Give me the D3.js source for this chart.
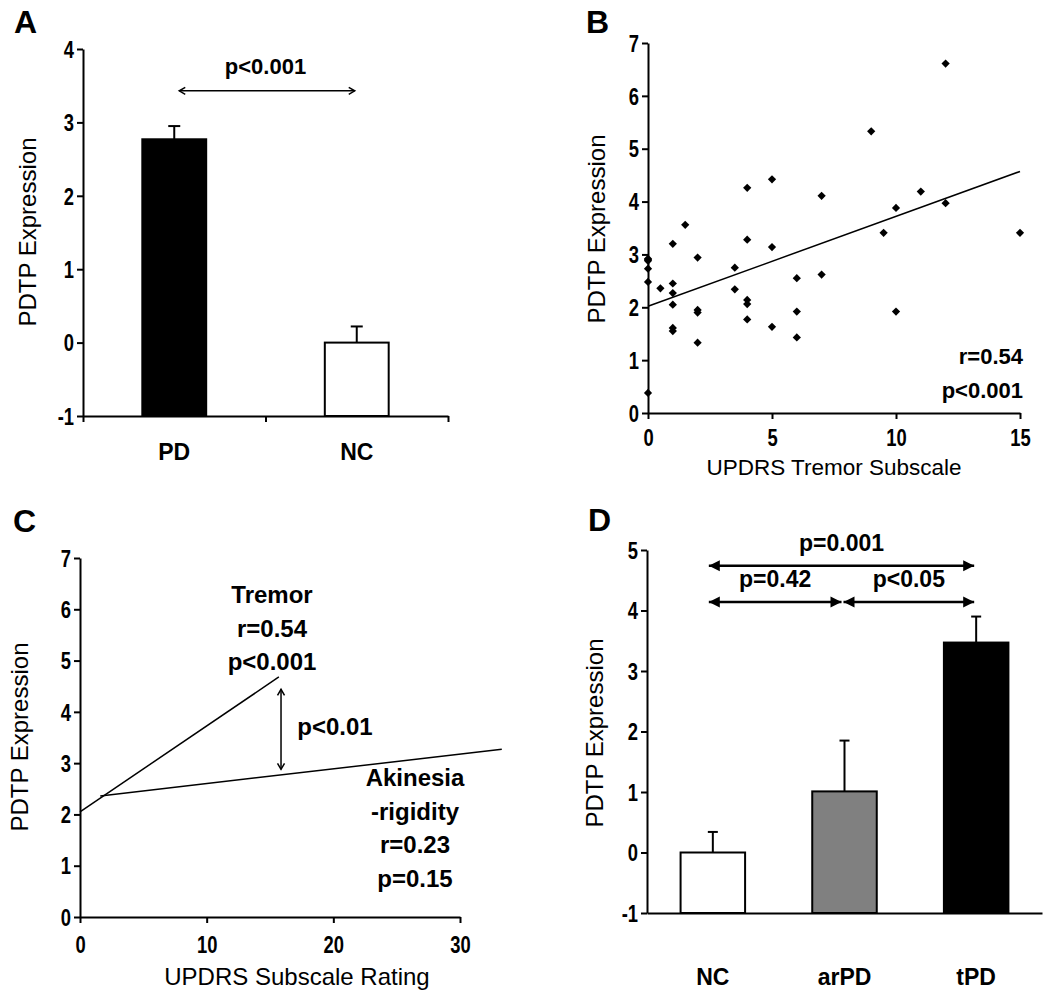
<!DOCTYPE html>
<html><head><meta charset="utf-8">
<script src="https://cdn.jsdelivr.net/npm/d3@7"></script>
<style>
body{margin:0;background:#fff;}
svg{display:block;}
.axis path,.axis line{stroke:#000;stroke-width:2;}
.lbl{font-family:"Liberation Sans",Arial,sans-serif;font-weight:bold;fill:#000;}
.ttl{font-family:"Liberation Sans",Arial,sans-serif;font-weight:normal;font-size:24px;fill:#000;}
.tk{font-family:"Liberation Sans",Arial,sans-serif;font-weight:bold;font-size:23px;fill:#000;}
</style>
</head><body>
<svg id="fig" width="1050" height="999"></svg>
<script>
// ---------- DATA ----------
// Panel A
const aCategories = ["PD", "NC"];
const aMeans = [2.77, 0];
const aErrors = [0.18, 0.22];
const aFills = ["#000000", "#ffffff"];
const aTicks = [-1, 0, 1, 2, 3, 4];
const aPLabel = "p<0.001";
const aPValueY = 3.43;

// Panel B (UPDRS tremor subscale vs PDTP expression)
const bTremor = [0, 0, 0, 0, 0, 0, 0.5, 1, 1, 1, 1, 1, 1, 1.5, 2, 2, 2, 2,
  3.5, 3.5, 4, 4, 4, 4, 4, 5, 5, 5, 6, 6, 6, 7, 7, 9, 9.5, 10, 10, 11, 12, 12, 15];
const bPDTP = [2.92, 2.88, 2.73, 2.48, 0.38, 2.90, 2.36, 3.20, 2.45, 2.27, 2.05, 1.61, 1.55, 3.56, 2.94, 1.95, 1.90, 1.33,
  2.75, 2.34, 4.26, 3.28, 2.14, 2.06, 1.77, 4.42, 3.14, 1.63, 2.55, 1.92, 1.43, 4.11, 2.62, 5.33, 3.41, 3.88, 1.92, 4.19, 6.61, 3.97, 3.41];
const bFitX = [0, 15];
const bFitY = [2.02, 4.57];
const bXTicks = [0, 5, 10, 15];
const bYTicks = [0, 1, 2, 3, 4, 5, 6, 7];
const bStats = ["r=0.54", "p<0.001"];

// Panel C (regression lines)
const cTremorX = [0, 15.7];
const cTremorY = [2.05, 4.68];
const cAkinesiaX = [1.6, 33.3];
const cAkinesiaY = [2.36, 3.27];
const cXTicks = [0, 10, 20, 30];
const cYTicks = [0, 1, 2, 3, 4, 5, 6, 7];
const cTremorText = ["Tremor", "r=0.54", "p<0.001"];
const cAkinesiaText = ["Akinesia", "-rigidity", "r=0.23", "p=0.15"];
const cDiffX = 15.87;
const cDiffY = [4.44, 2.88];
const cDiffLabel = "p<0.01";

// Panel D
const dCategories = ["NC", "arPD", "tPD"];
const dMeans = [0, 1.01, 3.47];
const dErrors = [0.34, 0.84, 0.43];
const dFills = ["#ffffff", "#808080", "#000000"];
const dTicks = [-1, 0, 1, 2, 3, 4, 5];
const dComparisons = [
  {from: "NC", to: "tPD", y: 4.74, label: "p=0.001"},
  {from: "NC", to: "arPD", y: 4.14, label: "p=0.42"},
  {from: "arPD", to: "tPD", y: 4.14, label: "p<0.05"}
];

// ---------- DRAW ----------
const svg = d3.select("#fig");
const defs = svg.append("defs");
defs.append("marker").attr("id", "open").attr("viewBox", "-8 -5 10 10")
  .attr("refX", 0).attr("refY", 0).attr("markerWidth", 10).attr("markerHeight", 10)
  .attr("markerUnits", "userSpaceOnUse").attr("orient", "auto-start-reverse")
  .append("path").attr("d", "M-6,-3.5L0,0L-6,3.5").attr("fill", "none").attr("stroke", "#000").attr("stroke-width", 1.5);
defs.append("marker").attr("id", "solid").attr("viewBox", "-12 -6 13 12")
  .attr("refX", 0).attr("refY", 0).attr("markerWidth", 13).attr("markerHeight", 12)
  .attr("markerUnits", "userSpaceOnUse").attr("orient", "auto-start-reverse")
  .append("path").attr("d", "M-11,-5.5L0,0L-11,5.5Z").attr("fill", "#000");

const fmt = d => String(d);
function panelLetter(t, x, y) {
  svg.append("text").attr("class", "lbl").attr("x", x).attr("y", y)
    .style("font-size", "32px").text(t);
}
function yTitle(x, y) {
  svg.append("text").attr("class", "ttl")
    .attr("transform", `translate(${x},${y}) rotate(-90)`)
    .attr("text-anchor", "middle").attr("dy", "0.35em").text("PDTP Expression");
}
// Draws axis line + ticks through d3 axis, then replaces tick labels with condensed bold numerals
function styleAxis(g, orient) {
  g.attr("class", "axis").attr("font-size", null).attr("font-family", null);
  g.selectAll(".tick line").attr("stroke", "#000");
  g.selectAll(".tick text").each(function () {
    const t = d3.select(this);
    const txt = t.text();
    if (!txt) return;
    const par = d3.select(this.parentNode);
    const tx = +t.attr("x") || 0, ty = +t.attr("y") || 0;
    t.remove();
    const nt = par.append("text").attr("class", "tk").text(txt)
      .attr("transform", `translate(${tx},${ty}) scale(0.8,1)`);
    if (orient === "left") nt.attr("text-anchor", "end").attr("dy", "0.36em");
    else nt.attr("text-anchor", "middle").attr("dy", "0.72em");
  });
}

// ===== Panel A =====
{
  const y = d3.scaleLinear().domain([-1, 4]).range([416, 49]);
  const xb = d3.scaleBand().domain(aCategories).range([83, 448]).padding(0);
  const xt = d3.scaleLinear().domain([0, aCategories.length]).range([83, 448]);
  const bw = xb.bandwidth() * 0.35;
  const g = svg.append("g");
  aCategories.forEach((c, i) => {
    const cx = xb(c) + xb.bandwidth() / 2;
    g.append("line").attr("x1", cx).attr("x2", cx).attr("y1", y(aMeans[i])).attr("y2", y(aMeans[i] + aErrors[i]))
      .attr("stroke", "#000").attr("stroke-width", 2);
    g.append("line").attr("x1", cx - 6).attr("x2", cx + 6).attr("y1", y(aMeans[i] + aErrors[i])).attr("y2", y(aMeans[i] + aErrors[i]))
      .attr("stroke", "#000").attr("stroke-width", 2);
    g.append("rect").attr("x", cx - bw / 2).attr("width", bw)
      .attr("y", y(aMeans[i])).attr("height", y(-1) - y(aMeans[i]))
      .attr("fill", aFills[i]).attr("stroke", "#000").attr("stroke-width", 2);
    g.append("text").attr("class", "lbl").style("font-size", "23px")
      .attr("x", cx).attr("y", 452).attr("dy", "0.35em").attr("text-anchor", "middle").text(c);
  });
  g.append("g").attr("transform", "translate(83,0)")
    .call(d3.axisLeft(y).tickValues(aTicks).tickSize(6).tickSizeOuter(0).tickPadding(3).tickFormat(fmt))
    .call(styleAxis, "left");
  g.append("g").attr("transform", "translate(0,416)")
    .call(d3.axisBottom(xt).tickValues([0, 1, 2]).tickSize(6).tickSizeOuter(0).tickFormat(""))
    .call(styleAxis, "bottom");
  const c0 = xb(aCategories[0]) + xb.bandwidth() / 2, c1 = xb(aCategories[1]) + xb.bandwidth() / 2;
  g.append("line").attr("x1", c0 + 5).attr("x2", c1 - 2).attr("y1", y(aPValueY)).attr("y2", y(aPValueY))
    .attr("stroke", "#000").attr("stroke-width", 1.5)
    .attr("marker-start", "url(#open)").attr("marker-end", "url(#open)");
  g.append("text").attr("class", "lbl").style("font-size", "22px").attr("text-anchor", "middle")
    .attr("x", (c0 + c1) / 2).attr("y", y(aPValueY) - 25).attr("dy", "0.35em").text(aPLabel);
  yTitle(28, 232);
  panelLetter("A", 14, 33);
}

// ===== Panel B =====
{
  const x = d3.scaleLinear().domain([0, 15]).range([648, 1020]);
  const y = d3.scaleLinear().domain([0, 7]).range([413, 43]);
  const g = svg.append("g");
  g.append("g").attr("transform", "translate(648,0)")
    .call(d3.axisLeft(y).tickValues(bYTicks).tickSize(6).tickSizeOuter(0).tickPadding(3).tickFormat(fmt))
    .call(styleAxis, "left");
  g.append("g").attr("transform", "translate(0,413)")
    .call(d3.axisBottom(x).tickValues(bXTicks).tickSize(6).tickSizeOuter(0).tickPadding(10).tickFormat(fmt))
    .call(styleAxis, "bottom");
  g.append("path").attr("d", d3.line().x(d => x(d[0])).y(d => y(d[1]))(d3.zip(bFitX, bFitY)))
    .attr("stroke", "#000").attr("stroke-width", 1.5).attr("fill", "none");
  const sym = d3.symbol(d3.symbolSquare).size(34);
  g.selectAll("path.pt").data(d3.zip(bTremor, bPDTP)).join("path").attr("class", "pt")
    .attr("d", sym).attr("transform", d => `translate(${x(d[0])},${y(d[1])}) rotate(45)`).attr("fill", "#000");
  bStats.forEach((s, i) => {
    g.append("text").attr("class", "lbl").style("font-size", "22px").attr("text-anchor", "end")
      .attr("x", 1023).attr("y", 356 + i * 34).attr("dy", "0.35em").text(s);
  });
  g.append("text").attr("class", "ttl").style("font-size", "22.5px").attr("text-anchor", "middle")
    .attr("x", 834).attr("y", 467).attr("dy", "0.35em").text("UPDRS Tremor Subscale");
  yTitle(597, 229);
  panelLetter("B", 586, 33);
}

// ===== Panel C =====
{
  const x = d3.scaleLinear().domain([0, 30]).range([80, 460]);
  const y = d3.scaleLinear().domain([0, 7]).range([917, 558]);
  const g = svg.append("g");
  g.append("g").attr("transform", "translate(80,0)")
    .call(d3.axisLeft(y).tickValues(cYTicks).tickSize(6).tickSizeOuter(0).tickPadding(3).tickFormat(fmt))
    .call(styleAxis, "left");
  g.append("g").attr("transform", "translate(0,917)")
    .call(d3.axisBottom(x).tickValues(cXTicks).tickSize(6).tickSizeOuter(0).tickPadding(13).tickFormat(fmt))
    .call(styleAxis, "bottom");
  const ln = d3.line().x(d => x(d[0])).y(d => y(d[1]));
  g.append("path").attr("d", ln(d3.zip(cTremorX, cTremorY))).attr("stroke", "#000").attr("stroke-width", 1.5).attr("fill", "none");
  g.append("path").attr("d", ln(d3.zip(cAkinesiaX, cAkinesiaY))).attr("stroke", "#000").attr("stroke-width", 1.5).attr("fill", "none");
  g.append("line").attr("x1", x(cDiffX)).attr("x2", x(cDiffX)).attr("y1", y(cDiffY[0])).attr("y2", y(cDiffY[1]))
    .attr("stroke", "#000").attr("stroke-width", 1.5)
    .attr("marker-start", "url(#open)").attr("marker-end", "url(#open)");
  g.append("text").attr("class", "lbl").style("font-size", "24px").attr("text-anchor", "middle")
    .attr("x", 335).attr("y", 727).attr("dy", "0.35em").text(cDiffLabel);
  cTremorText.forEach((s, i) => {
    g.append("text").attr("class", "lbl").style("font-size", "24px").attr("text-anchor", "middle")
      .attr("x", 272).attr("y", 595 + i * 33.5).attr("dy", "0.35em").text(s);
  });
  cAkinesiaText.forEach((s, i) => {
    g.append("text").attr("class", "lbl").style("font-size", "24px").attr("text-anchor", "middle")
      .attr("x", 415).attr("y", 778 + i * 33.5).attr("dy", "0.35em").text(s);
  });
  g.append("text").attr("class", "ttl").attr("text-anchor", "middle")
    .attr("x", 297).attr("y", 977).attr("dy", "0.35em").text("UPDRS Subscale Rating");
  yTitle(20, 737);
  panelLetter("C", 13, 532);
}

// ===== Panel D =====
{
  const y = d3.scaleLinear().domain([-1, 5]).range([913, 550]);
  const xb = d3.scaleBand().domain(dCategories).range([647, 1042]).padding(0);
  const bw = xb.bandwidth() * 0.49;
  const cx = c => xb(c) + xb.bandwidth() / 2;
  const g = svg.append("g");
  dCategories.forEach((c, i) => {
    g.append("line").attr("x1", cx(c)).attr("x2", cx(c)).attr("y1", y(dMeans[i])).attr("y2", y(dMeans[i] + dErrors[i]))
      .attr("stroke", "#000").attr("stroke-width", 2);
    g.append("line").attr("x1", cx(c) - 5).attr("x2", cx(c) + 5).attr("y1", y(dMeans[i] + dErrors[i])).attr("y2", y(dMeans[i] + dErrors[i]))
      .attr("stroke", "#000").attr("stroke-width", 2);
    g.append("rect").attr("x", cx(c) - bw / 2).attr("width", bw)
      .attr("y", y(dMeans[i])).attr("height", y(-1) - y(dMeans[i]))
      .attr("fill", dFills[i]).attr("stroke", "#000").attr("stroke-width", 2);
    g.append("text").attr("class", "lbl").style("font-size", "23px")
      .attr("x", cx(c)).attr("y", 977).attr("dy", "0.35em").attr("text-anchor", "middle").text(c);
  });
  g.append("g").attr("transform", "translate(647,0)")
    .call(d3.axisLeft(y).tickValues(dTicks).tickSize(6).tickSizeOuter(0).tickPadding(3).tickFormat(fmt))
    .call(styleAxis, "left");
  g.append("g").attr("transform", "translate(0,913)")
    .call(d3.axisBottom(xb).tickValues([]).tickSizeOuter(0))
    .call(styleAxis, "bottom");
  dComparisons.forEach(cmp => {
    const x1 = cx(cmp.from) - 4 + (cmp.from === "arPD" ? 3 : 0);
    const x2 = cx(cmp.to) + (cmp.to === "arPD" ? -3 : -2);
    g.append("line").attr("x1", x1).attr("x2", x2).attr("y1", y(cmp.y)).attr("y2", y(cmp.y))
      .attr("stroke", "#000").attr("stroke-width", 2.5)
      .attr("marker-start", "url(#solid)").attr("marker-end", "url(#solid)");
    g.append("text").attr("class", "lbl").style("font-size", "23px").attr("text-anchor", "middle")
      .attr("x", (x1 + x2) / 2).attr("y", y(cmp.y) - 23).attr("dy", "0.35em").text(cmp.label);
  });
  yTitle(595, 733);
  panelLetter("D", 588, 531);
}
</script>
</body></html>
